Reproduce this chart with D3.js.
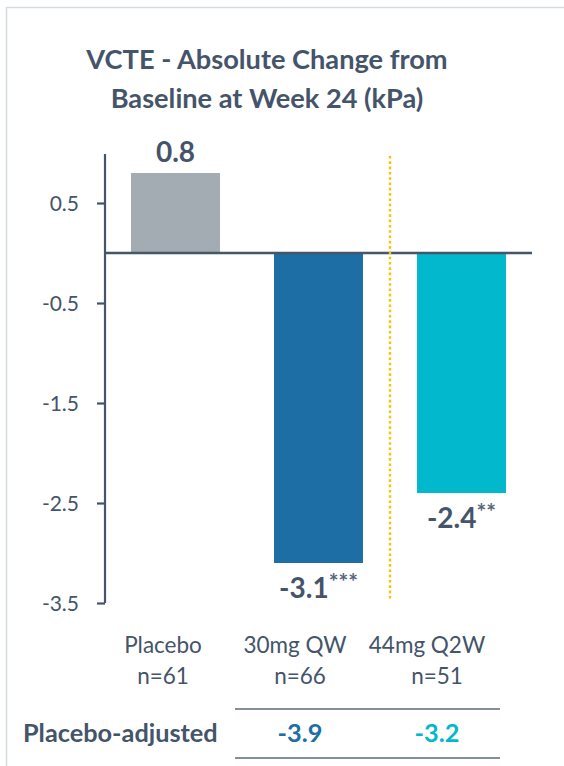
<!DOCTYPE html>
<html>
<head>
<meta charset="utf-8">
<script src="https://cdn.jsdelivr.net/npm/d3@7"></script>
<style>
  html, body { margin: 0; padding: 0; background: #fff; }
  svg { display: block; font-family: Lato, "Open Sans", sans-serif; }
</style>
</head>
<body>
<svg id="chart" width="564" height="766"></svg>
<script>
// Change in liver stiffness (VCTE) at week 24
const categories = ["Placebo", "30mg QW", "44mg Q2W"];
const sampleSizes = ["n=61", "n=66", "n=51"];
const changeValues = [0.8, -3.1, -2.4];
const significance = ["", "***", "**"];
const adjustedValues = [null, -3.9, -3.2];
const yTicks = [0.5, -0.5, -1.5, -2.5, -3.5];
const titleLines = ["VCTE - Absolute Change from", "Baseline at Week 24 (kPa)"];

const barColors = ["#A3ACB2", "#1C6EA4", "#01B8CC"];
const textColor = "#44546A";
// one decimal, plain hyphen for negatives
const fmt = v => v.toFixed(1);

const svg = d3.select("#chart");

// outer frame (top and left edges)
svg.append("path")
  .attr("d", "M6.5,766 L6.5,7.5 L564,7.5")
  .attr("fill", "none")
  .attr("stroke", "#D5DBDF")
  .attr("stroke-width", 1.5);

// title
svg.append("g").selectAll("text")
  .data(titleLines)
  .join("text")
  .attr("x", 267)
  .attr("y", (d, i) => 69 + i * 39)
  .attr("text-anchor", "middle")
  .attr("font-size", 27.2)
  .attr("font-weight", 700)
  .attr("fill", textColor)
  .text(d => d);

const y = d3.scaleLinear().domain([-3.5, 1]).range([603, 153]);
const x = d3.scaleBand()
  .domain(categories)
  .range([104, 533])
  .paddingInner(0.378)
  .paddingOuter(0.189);

// y axis
const yAxis = d3.axisLeft(y)
  .tickValues(yTicks)
  .tickFormat(fmt)
  .tickSize(8)
  .tickPadding(18)
  .tickSizeOuter(0);
const gy = svg.append("g").attr("transform", "translate(105,0)").call(yAxis);
gy.select(".domain").attr("stroke", textColor).attr("stroke-width", 2.2)
  .attr("d", `M0,${y(0.99)}V${y(-3.5)}`);
gy.selectAll(".tick line").attr("stroke", textColor).attr("stroke-width", 2.2);
gy.selectAll(".tick text")
  .attr("fill", textColor)
  .attr("font-size", 21)
  .attr("font-family", "Lato, sans-serif")
  .attr("dy", "0.36em");

// bars
svg.append("g").selectAll("rect")
  .data(changeValues)
  .join("rect")
  .attr("x", (d, i) => x(categories[i]))
  .attr("width", x.bandwidth())
  .attr("y", d => y(Math.max(0, d)))
  .attr("height", d => Math.abs(y(d) - y(0)))
  .attr("fill", (d, i) => barColors[i]);

// zero baseline
svg.append("line")
  .attr("x1", 105).attr("x2", 532)
  .attr("y1", y(0)).attr("y2", y(0))
  .attr("stroke", "#465669")
  .attr("stroke-width", 2.6);

// dotted divider between dose groups
const divX = (x(categories[1]) + x.bandwidth() + x(categories[2])) / 2;
svg.append("line")
  .attr("x1", divX).attr("x2", divX)
  .attr("y1", 156).attr("y2", 601)
  .attr("stroke", "#FFC000")
  .attr("stroke-width", 2.4)
  .attr("stroke-dasharray", "2.6,2.7");

// value labels with significance stars
const valLabels = svg.append("g").selectAll("text")
  .data(changeValues)
  .join("text")
  .attr("x", (d, i) => x(categories[i]) + x.bandwidth() / 2)
  .attr("y", d => d >= 0 ? y(d) - 11 : y(d) + 35)
  .attr("text-anchor", "middle")
  .attr("fill", textColor)
  .attr("font-weight", 700)
  .attr("font-size", 28);
valLabels.append("tspan").text(d => fmt(d));
valLabels.append("tspan")
  .attr("font-size", 23)
  .attr("font-weight", 700)
  .attr("dy", -8)
  .attr("fill", "#56657A")
  .text((d, i) => significance[i]);

// category labels
const catG = svg.append("g");
categories.forEach((c, i) => {
  const cx = x(c) + x.bandwidth() / 2;
  catG.append("text")
    .attr("x", cx - 12.5 - 11 * i)
    .attr("y", 653)
    .attr("text-anchor", "middle")
    .attr("font-size", 22.5)
    .attr("fill", textColor)
    .text(c);
  catG.append("text")
    .attr("x", cx - 12.5 - 6 * i)
    .attr("y", 684)
    .attr("text-anchor", "middle")
    .attr("font-size", 22.5)
    .attr("fill", textColor)
    .text(sampleSizes[i]);
});

// placebo-adjusted row
[709, 758].forEach(yy => {
  svg.append("line")
    .attr("x1", 235).attr("x2", 500)
    .attr("y1", yy).attr("y2", yy)
    .attr("stroke", "#5A6A7E")
    .attr("stroke-width", 1.5);
});
svg.append("text")
  .attr("x", 23).attr("y", 742)
  .attr("font-size", 25.3)
  .attr("font-weight", 700)
  .attr("fill", textColor)
  .text("Placebo-adjusted");
svg.append("g").selectAll("text")
  .data(adjustedValues.map((v, i) => ({ v, i })).filter(d => d.v !== null))
  .join("text")
  .attr("x", d => x(categories[d.i]) + x.bandwidth() / 2 - 12.5 - 6 * d.i)
  .attr("y", 742)
  .attr("text-anchor", "middle")
  .attr("font-size", 25.3)
  .attr("font-weight", 700)
  .attr("fill", d => barColors[d.i])
  .text(d => fmt(d.v));
</script>
</body>
</html>
